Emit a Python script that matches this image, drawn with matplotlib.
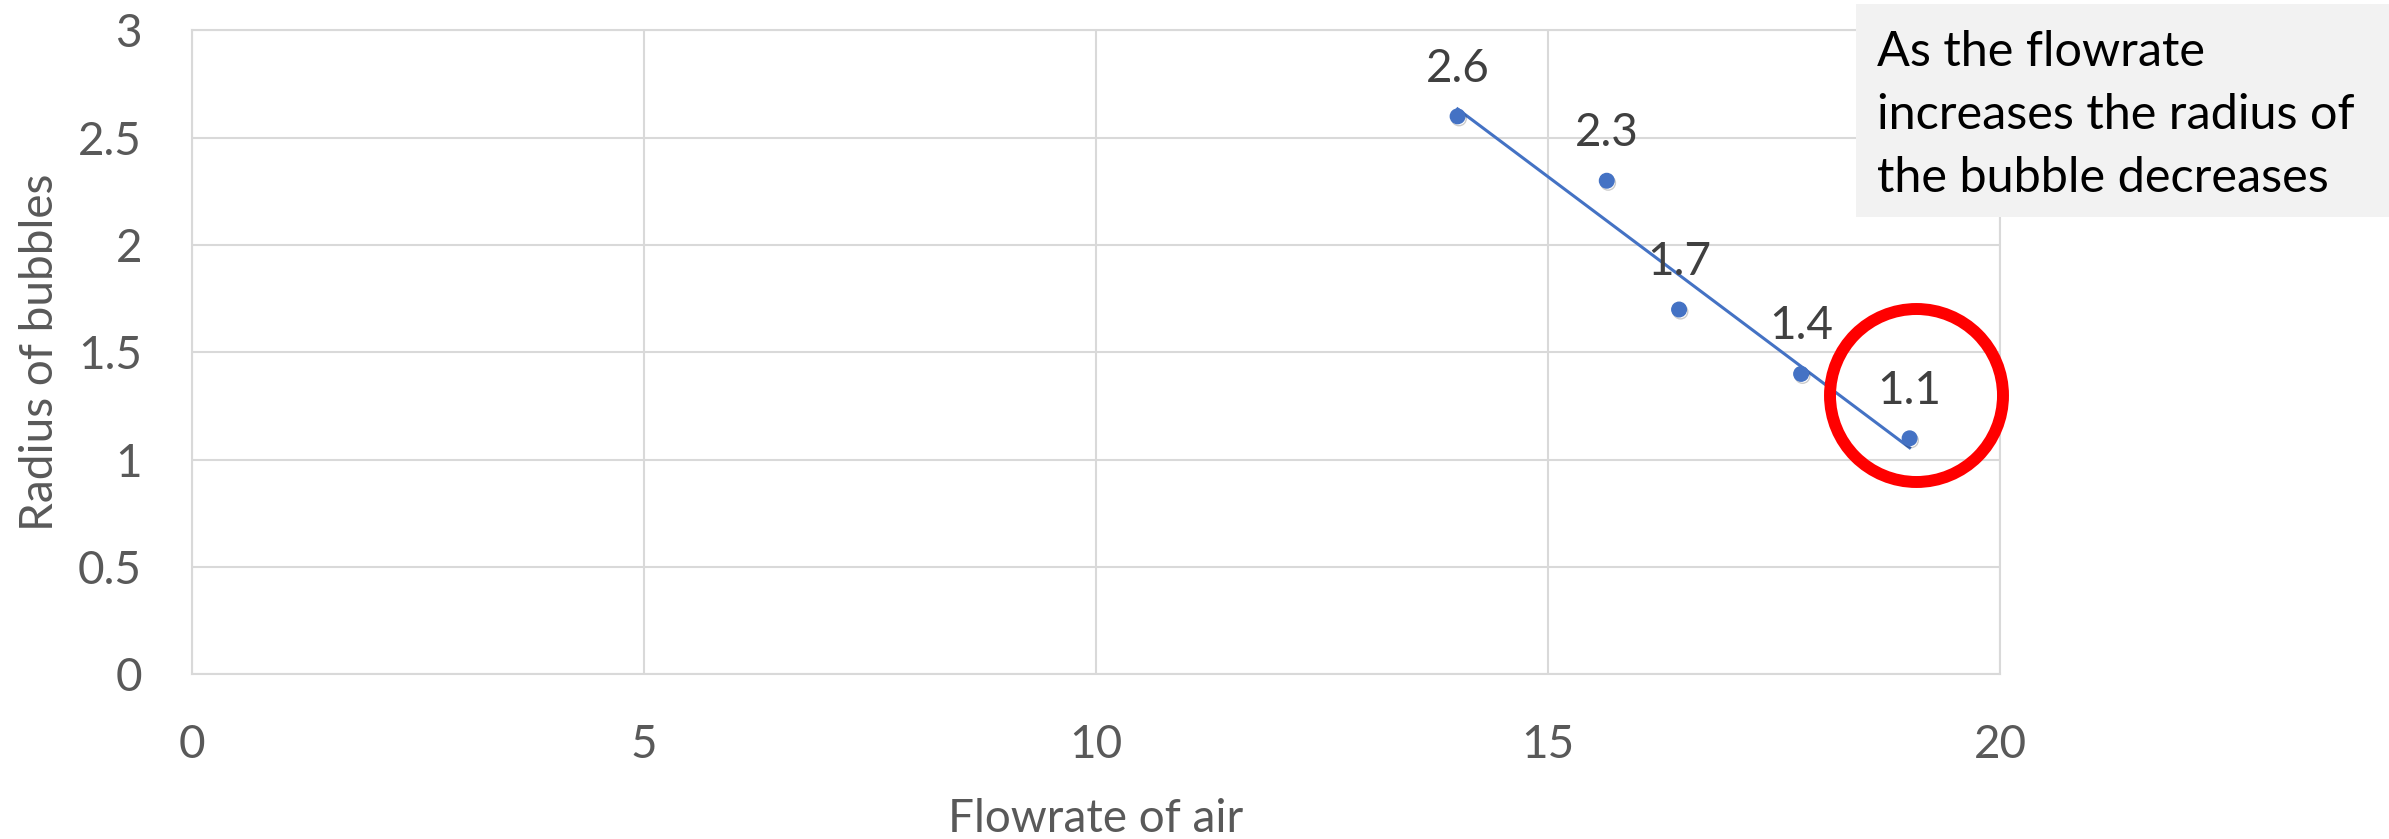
import numpy as np
import matplotlib
matplotlib.use("Agg")
import matplotlib.pyplot as plt
from matplotlib.patches import Ellipse, Rectangle
import matplotlib.patheffects as pe

# flowrate of air vs. measured bubble radius
flowrate = [14.0, 15.65, 16.45, 17.8, 19.0]
radius = [2.6, 2.3, 1.7, 1.4, 1.1]

x_ticks = [0, 5, 10, 15, 20]
y_ticks = [0, 0.5, 1, 1.5, 2, 2.5, 3]
y_tick_labels = ["0", "0.5", "1", "1.5", "2", "2.5", "3"]

note_lines = ["As the flowrate", "increases the radius of", "the bubble decreases"]

BLUE = "#4472c4"
GRID = "#d9d9d9"
TICK_TXT = "#595959"
FONT = "Lato"

plt.rcParams['font.family'] = [FONT, 'DejaVu Sans']

W, H = 2389, 839
fig = plt.figure(figsize=(W / 100, H / 100), dpi=100)
ax = fig.add_axes([192 / W, 1 - 674.4 / H, 1808 / W, 643.9 / H])

ax.set_xlim(0, 20)
ax.set_ylim(0, 3)
ax.set_xticks(x_ticks)
ax.set_yticks(y_ticks)
ax.set_yticklabels(y_tick_labels)
ax.grid(True, color=GRID, lw=1.5)
ax.set_axisbelow(True)
for s in ax.spines.values():
    s.set_color(GRID)
    s.set_linewidth(1.5)
ax.tick_params(length=0, labelsize=33, colors=TICK_TXT, pad=36)

# linear trendline over the measured range
k, b = np.polyfit(flowrate, radius, 1)
tx = np.array([min(flowrate), max(flowrate)])
ax.plot(tx, k * tx + b, color=BLUE, lw=2.2, zorder=3)

ax.plot(flowrate, radius, "o", color=BLUE, ms=10.5, zorder=4,
        path_effects=[pe.SimpleLineShadow(offset=(1, -1.5), alpha=0.2, shadow_color="black"),
                      pe.Normal()])

for xv, yv in zip(flowrate, radius):
    ax.annotate(f"{yv:g}", (xv, yv), xytext=(0, 25), textcoords="offset points",
                ha="center", va="baseline", fontsize=33, color="#404040", zorder=5)

ax.set_xlabel("Flowrate of air", fontsize=33, color=TICK_TXT, va="baseline")
ax.xaxis.set_label_coords(0.5, (674.4 - 832) / 643.9)
ax.set_ylabel("Radius of bubbles", fontsize=33, color=TICK_TXT, va="center")
ax.yaxis.set_label_coords((40 - 192) / 1808, 0.5)

# note box at top right
fig.add_artist(Rectangle((1856 / W, 1 - 217 / H), 1 - 1856 / W, 213 / H,
                         transform=fig.transFigure, facecolor="#f2f2f2", edgecolor="none"))
for i, line in enumerate(note_lines):
    fig.text(1877 / W, 1 - (66 + 63 * i) / H, line, fontsize=35, color="black",
             ha="left", va="baseline")

# red ring around the last point
fig.add_artist(Ellipse((1916.5 / W, 1 - 395.5 / H), 173 / W, 173 / H,
                       transform=fig.transFigure, facecolor="none",
                       edgecolor="#ff0000", lw=8.6, zorder=10))

fig.savefig("out.png", dpi=100)
